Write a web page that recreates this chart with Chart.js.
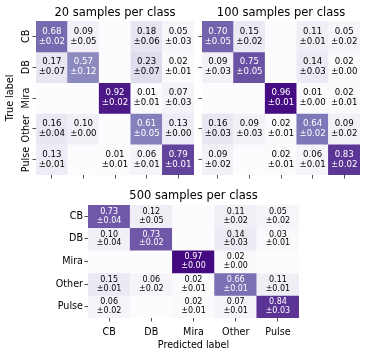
<!DOCTYPE html>
<html>
<head>
<meta charset="utf-8">
<script src="https://cdn.jsdelivr.net/npm/chart.js@4.4.1/dist/chart.umd.min.js"></script>
<style>
  body { margin: 0; background: #fff; }
  canvas { position: absolute; }
</style>
</head>
<body>
<canvas id="c20" width="200" height="185" style="left:0;top:0"></canvas>
<canvas id="c100" width="171" height="185" style="left:196px;top:0"></canvas>
<canvas id="c500" width="367" height="172" style="left:0;top:185px"></canvas>
<script>
const classes = ['CB', 'DB', 'Mira', 'Other', 'Pulse'];

// rows = true label, cols = predicted label, null = empty cell
const mean20 = [
  [0.68, 0.09, null, 0.18, 0.05],
  [0.17, 0.57, null, 0.23, 0.02],
  [null, null, 0.92, 0.01, 0.07],
  [0.16, 0.10, null, 0.61, 0.13],
  [0.13, null, 0.01, 0.06, 0.79]
];
const std20 = [
  [0.02, 0.05, null, 0.06, 0.03],
  [0.07, 0.12, null, 0.07, 0.01],
  [null, null, 0.02, 0.01, 0.03],
  [0.04, 0.00, null, 0.05, 0.00],
  [0.01, null, 0.01, 0.01, 0.01]
];
const mean100 = [
  [0.70, 0.15, null, 0.11, 0.05],
  [0.09, 0.75, null, 0.14, 0.02],
  [null, null, 0.96, 0.01, 0.02],
  [0.16, 0.09, 0.02, 0.64, 0.09],
  [0.09, null, 0.02, 0.06, 0.83]
];
const std100 = [
  [0.05, 0.02, null, 0.01, 0.02],
  [0.03, 0.05, null, 0.03, 0.00],
  [null, null, 0.01, 0.00, 0.01],
  [0.03, 0.03, 0.01, 0.02, 0.02],
  [0.02, null, 0.01, 0.01, 0.02]
];
const mean500 = [
  [0.73, 0.12, null, 0.11, 0.05],
  [0.10, 0.73, null, 0.14, 0.03],
  [null, null, 0.97, 0.02, null],
  [0.15, 0.06, 0.02, 0.66, 0.11],
  [0.06, null, 0.02, 0.07, 0.84]
];
const std500 = [
  [0.04, 0.05, null, 0.02, 0.02],
  [0.04, 0.02, null, 0.03, 0.01],
  [null, null, 0.00, 0.00, null],
  [0.01, 0.02, 0.01, 0.01, 0.01],
  [0.02, null, 0.01, 0.01, 0.03]
];

// matplotlib "Purples"
const purples = ['#fcfbfd', '#efedf5', '#dadaeb', '#bcbddc', '#9e9ac8', '#807dba', '#6a51a3', '#54278f', '#3f007d'];

function purple(v) {
  v = Math.max(0, Math.min(1, v || 0));
  const p = v * (purples.length - 1);
  const i = Math.min(Math.floor(p), purples.length - 2);
  const t = p - i;
  const a = purples[i], b = purples[i + 1];
  const ch = (s, k) => parseInt(s.substr(1 + 2 * k, 2), 16);
  const c = [0, 1, 2].map(k => Math.round(ch(a, k) + (ch(b, k) - ch(a, k)) * t));
  return 'rgb(' + c.join(',') + ')';
}

const FONT = '"DejaVu Sans", sans-serif';

function heatmap(id, title, means, stds, o) {
  const cellText = {
    id: 'cellText',
    afterDatasetsDraw(chart) {
      const ctx = chart.ctx;
      ctx.save();
      ctx.font = o.annot + 'px ' + FONT;
      ctx.textAlign = 'center';
      ctx.textBaseline = 'middle';
      means.forEach((row, r) => {
        const meta = chart.getDatasetMeta(r);
        row.forEach((m, c) => {
          if (m === null) return;
          const el = meta.data[c];
          const yc = (el.y + el.base) / 2;
          ctx.fillStyle = m > 0.4 ? '#fff' : '#000';
          ctx.fillText(m.toFixed(2), el.x, yc - o.gap);
          ctx.fillText('\u00b1' + stds[r][c].toFixed(2), el.x, yc + o.gap);
        });
      });
      ctx.restore();
    },
    afterDraw(chart) {
      const ctx = chart.ctx;
      const ca = chart.chartArea;
      ctx.save();
      ctx.fillStyle = '#000';
      ctx.font = '11.5px ' + FONT;
      ctx.textAlign = 'center';
      ctx.textBaseline = 'alphabetic';
      ctx.fillText(title, (ca.left + ca.right) / 2, o.titleY);
      if (o.rotLabels) {
        const ys = chart.scales.y;
        ctx.font = '9.6px ' + FONT;
        ctx.textBaseline = 'middle';
        classes.forEach((lab, i) => {
          ctx.save();
          ctx.translate(o.rotLabels, ys.getPixelForValue(i + 0.5));
          ctx.rotate(-Math.PI / 2);
          ctx.fillText(lab, 0, 0);
          ctx.restore();
        });
      }
      ctx.restore();
    }
  };

  const tickGrid = {
    drawOnChartArea: false,
    tickLength: 3.5,
    tickColor: '#222',
    tickWidth: 0.8,
    offset: false
  };

  return new Chart(document.getElementById(id), {
    type: 'bar',
    data: {
      labels: classes,
      datasets: means.map((row, r) => ({
        label: classes[r],
        data: row.map(() => 1),
        backgroundColor: row.map(v => purple(v)),
        borderWidth: 0,
        barPercentage: 1,
        categoryPercentage: 1
      }))
    },
    options: {
      responsive: false,
      animation: false,
      devicePixelRatio: 1,
      layout: { padding: o.padding },
      plugins: { legend: { display: false }, tooltip: { enabled: false } },
      scales: {
        x: {
          stacked: true,
          grid: tickGrid,
          border: { display: false },
          ticks: { display: o.xLabels, color: '#000', padding: 5, font: { family: FONT, size: 9.6 } },
          title: {
            display: o.xLabels,
            text: 'Predicted label',
            color: '#000',
            font: { family: FONT, size: 9.6 },
            padding: { top: 0, bottom: 6.2 }
          },
          afterFit: s => { s.height = o.xHeight; }
        },
        y: {
          type: 'linear',
          stacked: true,
          reverse: true,
          min: 0,
          max: 5,
          grid: tickGrid,
          border: { display: false },
          afterBuildTicks: s => { s.ticks = classes.map((c, i) => ({ value: i + 0.5 })); },
          ticks: {
            display: o.yLabels,
            color: '#000',
            padding: 1.5,
            font: { family: FONT, size: 9.6 },
            callback: (v, i) => classes[i]
          },
          title: {
            display: !!o.yTitle,
            text: 'True label',
            color: '#000',
            font: { family: FONT, size: 9.6 },
            padding: { top: 4.7, bottom: 0 }
          },
          afterFit: s => { s.width = o.yWidth; }
        }
      }
    },
    plugins: [cellText]
  });
}

heatmap('c20', '20 samples per class', mean20, std20, {
  padding: { top: 21, right: 6, left: 0, bottom: 0 },
  yWidth: 36, xHeight: 10, xLabels: false, yLabels: false, yTitle: true,
  rotLabels: 26, titleY: 16, annot: 8.6, gap: 5
});

heatmap('c100', '100 samples per class', mean100, std100, {
  padding: { top: 21, right: 7, left: 0, bottom: 0 },
  yWidth: 6, xHeight: 10, xLabels: false, yLabels: false, yTitle: false,
  rotLabels: 0, titleY: 16, annot: 8.6, gap: 5
});

heatmap('c500', '500 samples per class', mean500, std500, {
  padding: { top: 20, right: 68, left: 0, bottom: 0 },
  yWidth: 88, xHeight: 39, xLabels: true, yLabels: true, yTitle: false,
  rotLabels: 0, titleY: 14, annot: 8, gap: 4.4
});
</script>
</body>
</html>
